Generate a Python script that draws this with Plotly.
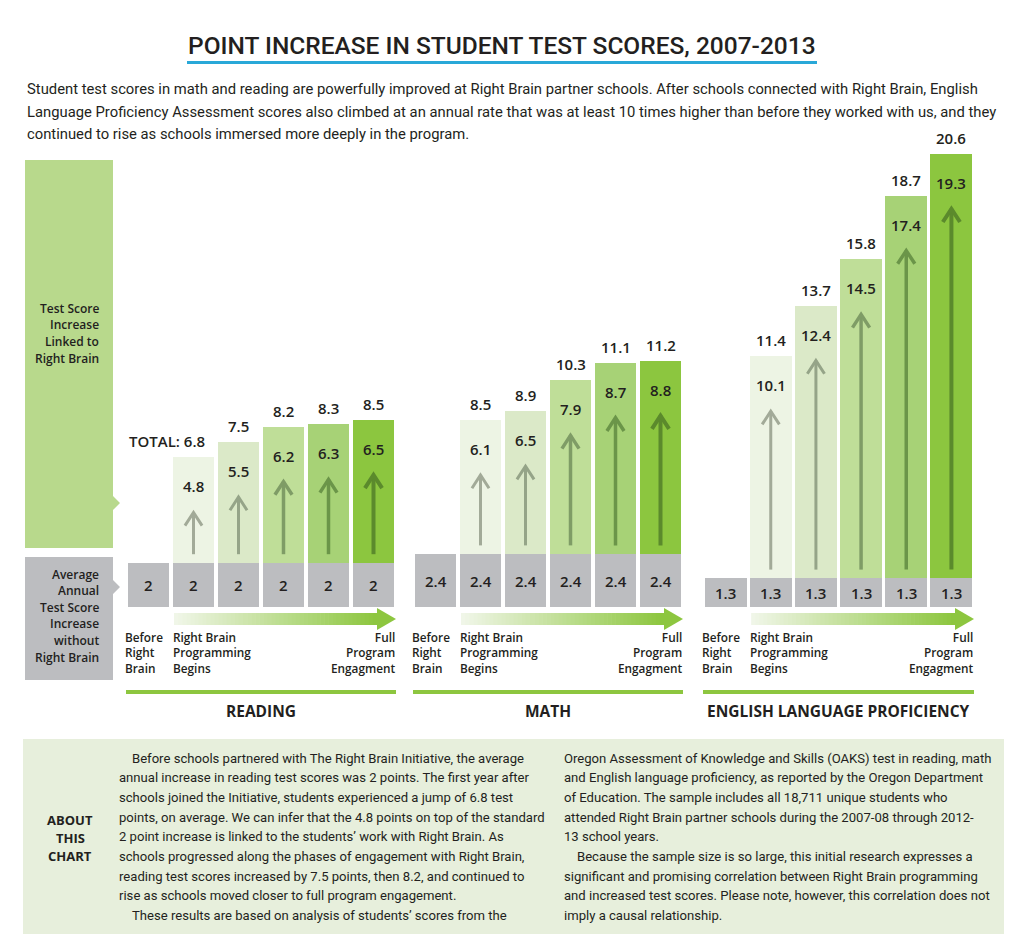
import plotly.graph_objects as go

# page body has an 8px margin: keep the figure inside the 1024x949 window
OFF = 8
W, H = 1024 - 2 * OFF, 949 - 2 * OFF

# ---------------- data ----------------
panel_titles = ["READING", "MATH", "ENGLISH LANGUAGE PROFICIENCY"]
stage_labels = ["Before<br>Right<br>Brain", "Right Brain<br>Programming<br>Begins", "Full<br>Program<br>Engagment"]

reading_base = [2, 2, 2, 2, 2, 2]
reading_linked = [0, 4.8, 5.5, 6.2, 6.3, 6.5]
reading_total = [2, 6.8, 7.5, 8.2, 8.3, 8.5]

math_base = [2.4, 2.4, 2.4, 2.4, 2.4, 2.4]
math_linked = [0, 6.1, 6.5, 7.9, 8.7, 8.8]
math_total = [2.4, 8.5, 8.9, 10.3, 11.1, 11.2]

elp_base = [1.3, 1.3, 1.3, 1.3, 1.3, 1.3]
elp_linked = [0, 10.1, 12.4, 14.5, 17.4, 19.3]
elp_total = [1.3, 11.4, 13.7, 15.8, 18.7, 20.6]

title_text = "POINT INCREASE IN STUDENT TEST SCORES, 2007-2013"
intro_lines = [
    "Student test scores in math and reading are powerfully improved at Right Brain partner schools. After schools connected with Right Brain, English",
    "Language Proficiency Assessment scores also climbed at an annual rate that was at least 10 times higher than before they worked with us, and they",
    "continued to rise as schools immersed more deeply in the program.",
]
legend_green_lines = ["Test Score", "Increase", "Linked to", "Right Brain"]
legend_gray_lines = ["Average", "Annual", "Test Score", "Increase", "without", "Right Brain"]
about_label = ["ABOUT", "THIS", "CHART"]
about_left = [
    "    Before schools partnered with The Right Brain Initiative, the average",
    "annual increase in reading test scores was 2 points. The first year after",
    "schools joined the Initiative, students experienced a jump of 6.8 test",
    "points, on average. We can infer that the 4.8 points on top of the standard",
    "2 point increase is linked to the students\u2019 work with Right Brain. As",
    "schools progressed along the phases of engagement with Right Brain,",
    "reading test scores increased by 7.5 points, then 8.2, and continued to",
    "rise as schools moved closer to full program engagement.",
    "    These results are based on analysis of students\u2019 scores from the",
]
about_right = [
    "Oregon Assessment of Knowledge and Skills (OAKS) test in reading, math",
    "and English language proficiency, as reported by the Oregon Department",
    "of Education. The sample includes all 18,711 unique students who",
    "attended Right Brain partner schools during the 2007-08 through 2012-",
    "13 school years.",
    "    Because the sample size is so large, this initial research expresses a",
    "significant and promising correlation between Right Brain programming",
    "and increased test scores. Please note, however, this correlation does not",
    "imply a causal relationship.",
]

panels = [
    (reading_base, reading_linked, reading_total),
    (math_base, math_linked, math_total),
    (elp_base, elp_linked, elp_total),
]

# ---------------- style ----------------
GRAY = "#bcbdc0"
GREENS = ["rgba(0,0,0,0)", "#edf4e4", "#dbe9c8", "#bfde98", "#a7d276", "#8cc63f"]
ARROWS = [None, "#a2aa98", "#95a488", "#7f9c66", "#6b9549", "#5b8a2c"]
ARROW_W = [0, 3, 3, 3.5, 3.5, 4]
BRIGHT = "#8dc63f"
TXT = "#231f20"
NUM_FONT = "Open Sans"
COND = "Roboto"

panel_px = [(126, 396), (413, 683), (703, 974)]
Y_MAX = 21
y_bottom_px, px_per_unit = 607, 22
y_top_px = y_bottom_px - Y_MAX * px_per_unit


def fx(px):
    return (px - OFF) / W


def fy(py):
    return 1 - (py - OFF) / H


fig = go.Figure()
annotations = []
shapes = []

x_idx = list(range(6))
for p, (base, linked, total) in enumerate(panels):
    xa = "x" if p == 0 else f"x{p + 1}"
    ya = "y" if p == 0 else f"y{p + 1}"
    fig.add_trace(go.Bar(x=x_idx, y=base, marker=dict(color=GRAY, line=dict(width=0)),
                         xaxis=xa, yaxis=ya, hoverinfo="skip", showlegend=False))
    fig.add_trace(go.Bar(x=x_idx, y=linked, base=base, marker=dict(color=GREENS, line=dict(width=0)),
                         xaxis=xa, yaxis=ya, hoverinfo="skip", showlegend=False))
    for i in x_idx:
        if linked[i] <= 0:
            continue
        start = base[i] + 0.4
        tip = total[i] - 2.5
        fig.add_trace(go.Scatter(
            x=[i, i, None, i - 0.19, i, i + 0.19],
            y=[start, tip, None, tip - 0.6, tip, tip - 0.6],
            mode="lines", line=dict(color=ARROWS[i], width=ARROW_W[i]),
            xaxis=xa, yaxis=ya, hoverinfo="skip", showlegend=False))
        annotations.append(dict(x=i, y=total[i], xref=xa, yref=ya, text=f"{linked[i]}",
                                showarrow=False, xanchor="center", yanchor="top", yshift=-17,
                                font=dict(family=NUM_FONT, size=15, color=TXT, weight=600)))
        if p == 0 and i == 1:
            annotations.append(dict(x=i, y=total[i], xref=xa, yref=ya, text=f"TOTAL: {total[i]}",
                                    showarrow=False, yanchor="bottom", yshift=4, xanchor="right", xshift=13,
                                    font=dict(family=NUM_FONT, size=15, color=TXT, weight=600)))
        else:
            annotations.append(dict(x=i, y=total[i], xref=xa, yref=ya, text=f"{total[i]}",
                                    showarrow=False, xanchor="center", yanchor="bottom", yshift=4,
                                    font=dict(family=NUM_FONT, size=15, color=TXT, weight=600)))
    for i in x_idx:
        annotations.append(dict(x=i, y=base[i] / 2, xref=xa, yref=ya, text=f"{base[i]}",
                                showarrow=False, xanchor="center", yanchor="middle",
                                font=dict(family=NUM_FONT, size=15, color=TXT, weight=600)))

    x0, x1 = panel_px[p]
    pitch = (x1 - x0) / 6
    sx0 = x0 + pitch + 3
    head_base = x1 - 19
    n = 50
    r0, g0, b0 = (0xf0, 0xf6, 0xe8)
    r1, g1, b1 = (0x8d, 0xc6, 0x3f)
    for k in range(n):
        t = k / (n - 1)
        c = f"rgb({round(r0 + (r1 - r0) * t)},{round(g0 + (g1 - g0) * t)},{round(b0 + (b1 - b0) * t)})"
        xa0 = sx0 + (head_base - sx0) * k / n
        xa1 = sx0 + (head_base - sx0) * (k + 1) / n + 0.6
        shapes.append(dict(type="rect", xref="paper", yref="paper", x0=fx(xa0), x1=fx(xa1),
                           y0=fy(625), y1=fy(613), fillcolor=c, line=dict(width=0), layer="below"))
    shapes.append(dict(type="path", xref="paper", yref="paper",
                       path=f"M {fx(head_base)} {fy(608)} L {fx(x1)} {fy(619)} L {fx(head_base)} {fy(630)} Z",
                       fillcolor=BRIGHT, line=dict(width=0)))
    stage_font = dict(family=NUM_FONT, size=11.8, color=TXT, weight=600)
    annotations.append(dict(x=fx(x0 - 3), y=fy(627), xref="paper", yref="paper", text=stage_labels[0],
                            showarrow=False, xanchor="left", yanchor="top", align="left", font=stage_font))
    annotations.append(dict(x=fx(x0 + pitch), y=fy(627), xref="paper", yref="paper", text=stage_labels[1],
                            showarrow=False, xanchor="left", yanchor="top", align="left", font=stage_font))
    annotations.append(dict(x=fx(x1 + 2), y=fy(627), xref="paper", yref="paper", text=stage_labels[2],
                            showarrow=False, xanchor="right", yanchor="top", align="right", font=stage_font))
    shapes.append(dict(type="rect", xref="paper", yref="paper", x0=fx(x0), x1=fx(x1),
                       y0=fy(694), y1=fy(690), fillcolor=BRIGHT, line=dict(width=0)))
    annotations.append(dict(x=fx((x0 + x1) / 2), y=fy(711), xref="paper", yref="paper", text=panel_titles[p],
                            showarrow=False, xanchor="center", yanchor="middle",
                            font=dict(family=NUM_FONT, size=15.5, color=TXT, weight=700)))

layout_axes = {}
for p in range(3):
    x0, x1 = panel_px[p]
    sfx = "" if p == 0 else str(p + 1)
    layout_axes[f"xaxis{sfx}"] = dict(domain=[fx(x0), fx(x1)], range=[-0.5, 5.5], visible=False,
                                      fixedrange=True, anchor=f"y{sfx}")
    layout_axes[f"yaxis{sfx}"] = dict(domain=[fy(y_bottom_px), fy(y_top_px)], range=[0, Y_MAX], visible=False,
                                      fixedrange=True, anchor=f"x{sfx}")

annotations.append(dict(x=fx(502), y=fy(45), xref="paper", yref="paper", text=title_text, showarrow=False,
                        xanchor="center", yanchor="middle",
                        font=dict(family=COND, size=24.5, color=TXT, weight=500)))
shapes.append(dict(type="rect", xref="paper", yref="paper", x0=fx(187), x1=fx(817), y0=fy(64), y1=fy(61),
                   fillcolor="#29a8d8", line=dict(width=0)))

for k, line in enumerate(intro_lines):
    annotations.append(dict(x=fx(25), y=fy(89 + 22.5 * k), xref="paper", yref="paper", text=line, showarrow=False,
                            xanchor="left", yanchor="middle", font=dict(family=COND, size=14.8, color=TXT)))

shapes.append(dict(type="path", xref="paper", yref="paper",
                   path=f"M {fx(25)} {fy(160)} L {fx(113)} {fy(160)} L {fx(113)} {fy(496)} L {fx(120)} {fy(503)} "
                        f"L {fx(113)} {fy(510)} L {fx(113)} {fy(548)} L {fx(25)} {fy(548)} Z",
                   fillcolor="#b8d98c", line=dict(width=0)))
shapes.append(dict(type="path", xref="paper", yref="paper",
                   path=f"M {fx(25)} {fy(557)} L {fx(113)} {fy(557)} L {fx(113)} {fy(580)} L {fx(120)} {fy(587)} "
                        f"L {fx(113)} {fy(594)} L {fx(113)} {fy(680)} L {fx(25)} {fy(680)} Z",
                   fillcolor=GRAY, line=dict(width=0)))
for k, line in enumerate(legend_green_lines):
    annotations.append(dict(x=fx(101), y=fy(308 + 16.7 * k), xref="paper", yref="paper", text=line,
                            showarrow=False, xanchor="right", yanchor="middle",
                            font=dict(family=NUM_FONT, size=12, color=TXT, weight=600)))
for k, line in enumerate(legend_gray_lines):
    annotations.append(dict(x=fx(101), y=fy(574 + 16.6 * k), xref="paper", yref="paper", text=line,
                            showarrow=False, xanchor="right", yanchor="middle",
                            font=dict(family=NUM_FONT, size=12, color=TXT, weight=600)))

shapes.append(dict(type="rect", xref="paper", yref="paper", x0=fx(23), x1=fx(1004), y0=fy(934), y1=fy(739),
                   fillcolor="#e7efdc", line=dict(width=0), layer="below"))
for k, line in enumerate(about_label):
    annotations.append(dict(x=fx(70), y=fy(820 + 18 * k), xref="paper", yref="paper", text=line,
                            showarrow=False, xanchor="center", yanchor="middle",
                            font=dict(family=NUM_FONT, size=13, color=TXT, weight=700)))
for k, line in enumerate(about_left):
    indent = 13 if line.startswith("    ") else 0
    annotations.append(dict(x=fx(117 + indent), y=fy(758 + 19.7 * k), xref="paper", yref="paper",
                            text=line.strip(), showarrow=False, xanchor="left", yanchor="middle",
                            font=dict(family=COND, size=13.1, color=TXT)))
for k, line in enumerate(about_right):
    indent = 13 if line.startswith("    ") else 0
    annotations.append(dict(x=fx(562 + indent), y=fy(758 + 19.7 * k), xref="paper", yref="paper",
                            text=line.strip(), showarrow=False, xanchor="left", yanchor="middle",
                            font=dict(family=COND, size=13.1, color=TXT)))

fig.update_layout(
    width=W, height=H, margin=dict(l=0, r=0, t=0, b=0),
    paper_bgcolor="white", plot_bgcolor="rgba(0,0,0,0)",
    barmode="stack", bargap=0.07, showlegend=False,
    annotations=annotations, shapes=shapes,
    **layout_axes,
)

fig.write_html("out.html")
